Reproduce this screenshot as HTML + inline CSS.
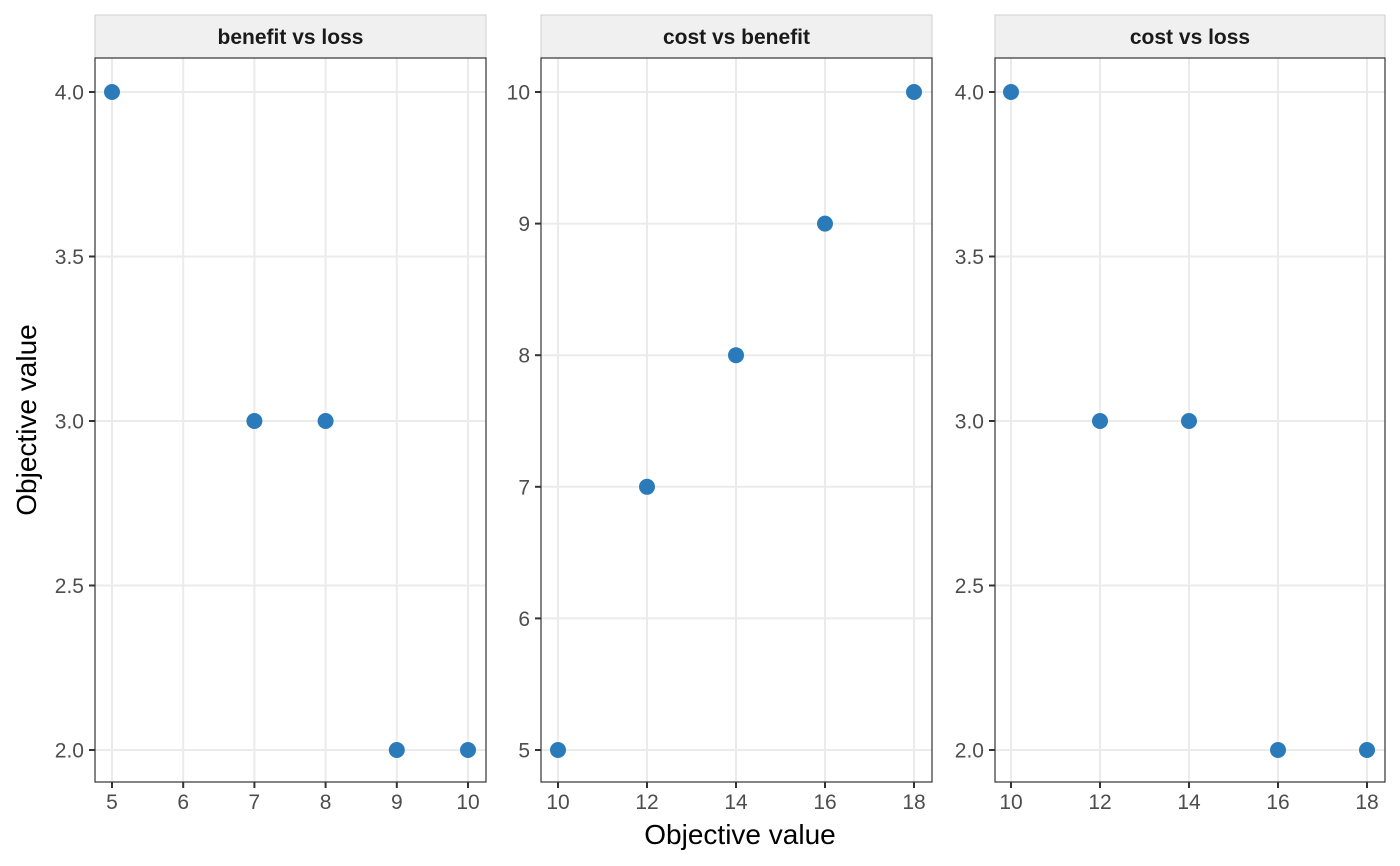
<!DOCTYPE html>
<html><head><style>body{margin:0;background:#fff}svg{display:block}text{font-family:"Liberation Sans",Arial,sans-serif}</style></head><body>
<svg width="1400" height="866" xmlns="http://www.w3.org/2000/svg">
<g id="p"></g>
</svg>
<script>
const svg=document.querySelector('svg');let h='';
const T=58,B=782;
const panels=[
 {L:95,R:486,title:'benefit vs loss',x0:5,x1:10,px0:112,px1:468,xt:[5,6,7,8,9,10],y0:2,y1:4,py0:750,py1:92,yt:[2,2.5,3,3.5,4],yf:1,pts:[[5,4],[7,3],[8,3],[9,2],[10,2]]},
 {L:541,R:932,title:'cost vs benefit',x0:10,x1:18,px0:558,px1:914,xt:[10,12,14,16,18],y0:5,y1:10,py0:750,py1:92,yt:[5,6,7,8,9,10],yf:0,pts:[[10,5],[12,7],[14,8],[16,9],[18,10]]},
 {L:995,R:1385,title:'cost vs loss',x0:10,x1:18,px0:1011,px1:1367,xt:[10,12,14,16,18],y0:2,y1:4,py0:750,py1:92,yt:[2,2.5,3,3.5,4],yf:1,pts:[[10,4],[12,3],[14,3],[16,2],[18,2]]}];
for(const p of panels){
 const X=v=>p.px0+(v-p.x0)*(p.px1-p.px0)/(p.x1-p.x0);
 const Y=v=>p.py0+(v-p.y0)*(p.py1-p.py0)/(p.y1-p.y0);
 h+=`<rect x="${p.L}" y="15" width="${p.R-p.L}" height="${T-15}" fill="#f0f0f0" stroke="#cfcfcf" stroke-width="1"/>`;
 h+=`<text x="${(p.L+p.R)/2}" y="44" font-size="21" font-weight="bold" text-anchor="middle" fill="#1a1a1a">${p.title}</text>`;
 for(const v of p.xt){h+=`<line x1="${X(v)}" x2="${X(v)}" y1="${T}" y2="${B}" stroke="#ebebeb" stroke-width="2"/>`;
  h+=`<line x1="${X(v)}" x2="${X(v)}" y1="${B}" y2="${B+6}" stroke="#333" stroke-width="2"/>`;
  h+=`<text x="${X(v)}" y="${B+27}" font-size="21" text-anchor="middle" fill="#4d4d4d">${v}</text>`;}
 for(const v of p.yt){h+=`<line x1="${p.L}" x2="${p.R}" y1="${Y(v)}" y2="${Y(v)}" stroke="#ebebeb" stroke-width="2"/>`;
  h+=`<line x1="${p.L-6}" x2="${p.L}" y1="${Y(v)}" y2="${Y(v)}" stroke="#333" stroke-width="2"/>`;
  h+=`<text x="${p.L-11}" y="${Y(v)+7.5}" font-size="21" text-anchor="end" fill="#4d4d4d">${v.toFixed(p.yf)}</text>`;}
 for(const q of p.pts)h+=`<circle cx="${X(q[0])}" cy="${Y(q[1])}" r="8" fill="#2b7bba"/>`;
 h+=`<rect x="${p.L}" y="${T}" width="${p.R-p.L}" height="${B-T}" fill="none" stroke="#333" stroke-width="1.2"/>`;
}
h+=`<text x="740" y="844" font-size="28" text-anchor="middle" fill="#000">Objective value</text>`;
h+=`<text transform="translate(36,420) rotate(-90)" font-size="28" text-anchor="middle" fill="#000">Objective value</text>`;
document.getElementById('p').innerHTML=h;
</script>
</body></html>
